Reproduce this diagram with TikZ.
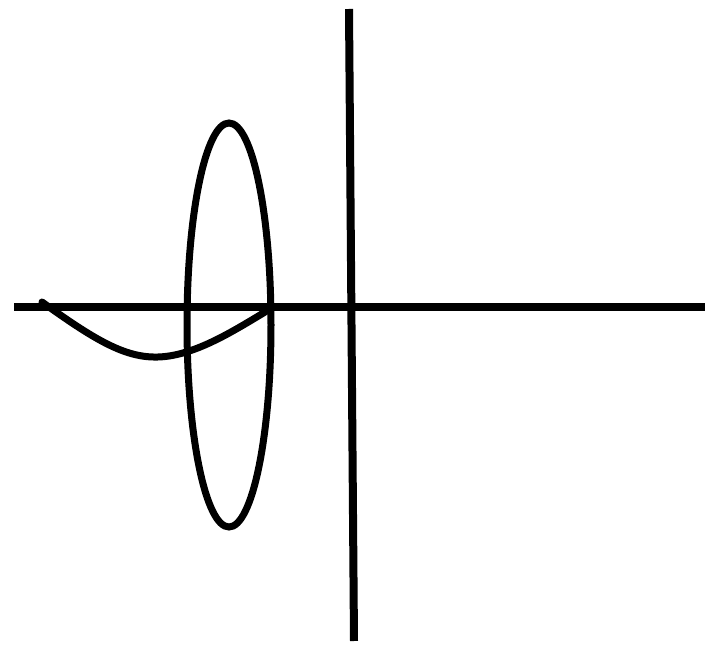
\documentclass[tikz,border=0pt]{standalone}
\begin{document}
\begin{tikzpicture}[x=1pt, y=-1pt, line width=8pt, line cap=round]
	      \useasboundingbox (0, 0) rectangle (705, 647);

	      % axes
	      \coordinate (xl) at (14, 307);
	      \coordinate (xr) at (705, 307);
	      \coordinate (yt) at (349, 9);
	      \coordinate (yb) at (354, 641);
	      \draw[line cap=butt] (xl) -- (xr);
	      \draw[line cap=butt] (yt) -- (yb);

	      % ellipse
	      \coordinate (c) at (229, 325);
	      \draw[line width=7pt] (c) ellipse (42 and 202);

	      % curve
	      \coordinate (s) at (42, 302);
	      \coordinate (m) at (158, 357);
	      \coordinate (t) at (270, 309);
	      \draw[line width=7pt] (s) .. controls (95, 340) and (125, 358) .. (m)
	            .. controls (195, 356) and (235, 330) .. (t);
\end{tikzpicture}
\end{document}
